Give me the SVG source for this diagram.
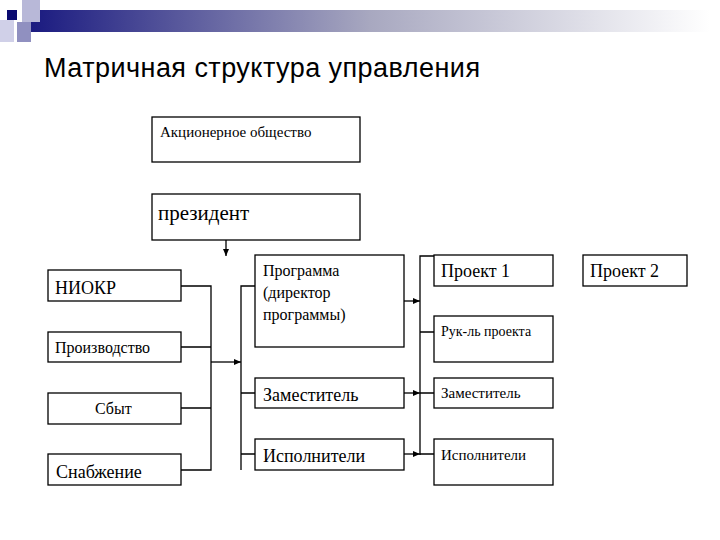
<svg xmlns="http://www.w3.org/2000/svg" width="720" height="540" viewBox="0 0 720 540">
<defs>
<linearGradient id="g" x1="0" x2="1" y1="0" y2="0"><stop offset="0" stop-color="#1a1a80"/><stop offset="0.5" stop-color="#a8a8c0"/><stop offset="1" stop-color="#ffffff"/></linearGradient>
<marker id="a" markerWidth="8" markerHeight="8" refX="7" refY="4" orient="auto" markerUnits="userSpaceOnUse"><path d="M0,1 L7,4 L0,7 Z" fill="#000"/></marker>
</defs>
<style>
.b{fill:#fff;stroke:#000;stroke-width:1.3}
.t{font-family:"Liberation Serif","DejaVu Serif",serif;fill:#000}
.c{fill:none;stroke:#000;stroke-width:1.3}
</style>
<rect x="0" y="0" width="720" height="540" fill="#fff"/>
<rect x="30" y="10" width="680" height="22" fill="url(#g)"/>
<rect x="7" y="10" width="10" height="10" fill="#0a0a70"/>
<rect x="22" y="0" width="18" height="22" fill="#b8b8d8"/>
<rect x="17" y="22" width="14" height="20" fill="#9090c0"/>
<rect x="0" y="20" width="14" height="22" fill="#d0d0e8"/>
<text x="44" y="77" font-family="Liberation Sans,sans-serif" font-size="27" textLength="436">Матричная структура управления</text>
<g id="n-ao"><rect class="b" x="152" y="117" width="208" height="45"/><text class="t" x="160" y="137" font-size="15">Акционерное общество</text></g>
<g id="n-pres"><rect class="b" x="152" y="194" width="208" height="46"/><text class="t" x="158" y="220" font-size="21">президент</text></g>
<g id="n-niokr"><rect class="b" x="48" y="270" width="133" height="31"/><text class="t" x="55" y="294" font-size="18">НИОКР</text></g>
<g id="n-proizv"><rect class="b" x="48" y="332" width="133" height="30"/><text class="t" x="55" y="353" font-size="16">Производство</text></g>
<g id="n-sbyt"><rect class="b" x="48" y="393" width="133" height="31"/><text class="t" x="95" y="414" font-size="16">Сбыт</text></g>
<g id="n-snab"><rect class="b" x="48" y="454" width="133" height="31"/><text class="t" x="56" y="478" font-size="18">Снабжение</text></g>
<g id="n-prog"><rect class="b" x="255" y="255" width="149" height="92"/><text class="t" font-size="16"><tspan x="263" y="276">Программа</tspan><tspan x="263" y="298">(директор</tspan><tspan x="263" y="320">программы)</tspan></text></g>
<g id="n-zam"><rect class="b" x="255" y="378" width="149" height="30"/><text class="t" x="263" y="401" font-size="18">Заместитель</text></g>
<g id="n-isp"><rect class="b" x="255" y="439" width="149" height="31"/><text class="t" x="263" y="462" font-size="18">Исполнители</text></g>
<g id="n-p1"><rect class="b" x="434" y="255" width="119" height="31"/><text class="t" x="441" y="277" font-size="18">Проект 1</text></g>
<g id="n-ruk"><rect class="b" x="434" y="316" width="119" height="46"/><text class="t" x="441" y="336" font-size="14">Рук-ль проекта</text></g>
<g id="n-zam2"><rect class="b" x="434" y="378" width="119" height="30"/><text class="t" x="441" y="398" font-size="15">Заместитель</text></g>
<g id="n-isp2"><rect class="b" x="434" y="439" width="119" height="46"/><text class="t" x="441" y="460" font-size="15">Исполнители</text></g>
<g id="n-p2"><rect class="b" x="583" y="255" width="104" height="31"/><text class="t" x="590" y="277" font-size="18">Проект 2</text></g>
<g id="connectors">
<line class="c" x1="226" y1="240" x2="226" y2="256" marker-end="url(#a)"/>
<path class="c" d="M181,286 H211 V470 H181 M181,347 H211 M181,408 H211"/>
<line class="c" x1="211" y1="362" x2="241" y2="362" marker-end="url(#a)"/>
<path class="c" d="M255,286 H241 V470 M241,393 H255 M241,454 H255"/>
<line class="c" x1="404" y1="301" x2="420" y2="301" marker-end="url(#a)"/>
<line class="c" x1="404" y1="393" x2="420" y2="393" marker-end="url(#a)"/>
<line class="c" x1="404" y1="454" x2="420" y2="454" marker-end="url(#a)"/>
<path class="c" d="M434,256 H420 V455 M420,332 H434 M420,393 H434 M420,454 H434"/>
</g>
</svg>
